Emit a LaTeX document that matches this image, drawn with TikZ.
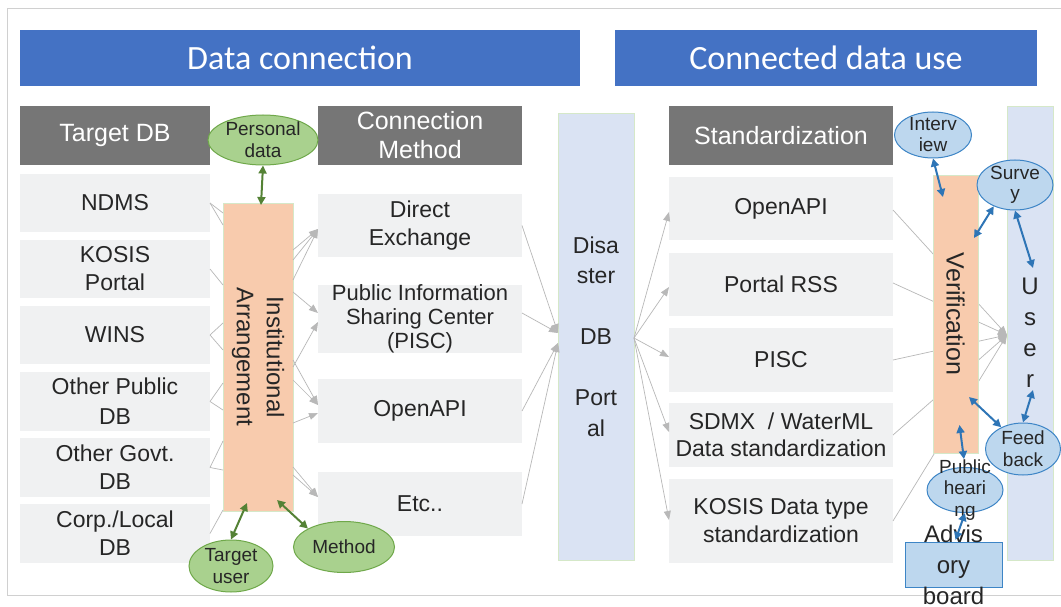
\documentclass[tikz,border=0pt]{standalone}
\usepackage{fontspec}
\setmainfont{Liberation Sans}
\newfontfamily\hdrfont{Carlito}
\usetikzlibrary{shapes.geometric,arrows.meta,calc}
\definecolor{hdrblue}{HTML}{4472C4}
\definecolor{hdrgray}{HTML}{767676}
\definecolor{itemgray}{HTML}{F0F1F2}
\definecolor{peach}{HTML}{F8CBAD}
\definecolor{portalblue}{HTML}{DAE3F3}
\definecolor{paleborder}{HTML}{D5E8C8}
\definecolor{gfill}{HTML}{A9D18E}
\definecolor{gborder}{HTML}{6FA84A}
\definecolor{garr}{HTML}{548235}
\definecolor{bfill}{HTML}{BDD7EE}
\definecolor{bborder}{HTML}{3D85C6}
\definecolor{barr}{HTML}{2E75B6}
\definecolor{linegray}{HTML}{B8B8B8}
\definecolor{txt}{HTML}{262626}
\definecolor{framegray}{HTML}{D0D0D0}
\begin{document}
\begin{tikzpicture}[x=1pt,y=-1pt,
  box/.style={inner sep=0pt, outer sep=0pt, align=center},
  bighdr/.style={box, fill=hdrblue, text=white, font=\hdrfont\fontsize{34}{36}\selectfont},
  colhdr/.style={box, fill=hdrgray, text=white, font=\fontsize{25}{29}\selectfont},
  item/.style={box, fill=itemgray, text=txt, font=\fontsize{23}{28}\selectfont},
  c1/.style={item, minimum width=190pt},
  c2/.style={item, minimum width=204pt},
  c3/.style={item, minimum width=224pt},
  tallbox/.style={box, draw=paleborder, line width=0.6pt, text=txt},
  gell/.style={ellipse, draw=gborder, fill=gfill, line width=1pt, inner sep=0pt},
  bell/.style={ellipse, draw=bborder, fill=bfill, line width=1pt, inner sep=0pt},
  etext/.style={font=\fontsize{19}{22}\selectfont, text=txt, align=center, inner sep=0pt},
  gline/.style={draw=linegray, line width=0.7pt},
  garrow/.style={gline, -{Triangle[length=9pt,width=7pt]}},
  grarrow/.style={draw=garr, line width=2pt, {Triangle[length=8pt,width=8pt]}-{Triangle[length=8pt,width=8pt]}},
  blarrow/.style={draw=barr, line width=2pt, {Triangle[length=8pt,width=8pt]}-{Triangle[length=8pt,width=8pt]}}
]
\useasboundingbox (0,0) rectangle (1061,607);
\fill[white] (0,0) rectangle (1061,607);
\draw[framegray, line width=0.8pt] (1065,8) -- (7,8) -- (7,595) -- (1065,595);

% big headers
\node[bighdr, minimum width=560pt, minimum height=56pt] (hleft) at (300,58) {Data connection};
\node[bighdr, minimum width=422pt, minimum height=56pt] (hright) at (826,58) {Connected data use};

% column 1
\node[colhdr, minimum width=190pt, minimum height=59pt] (tdbh) at (115,135.5) {Target DB};
\node[c1, minimum height=58pt] (ndms) at (115,203) {NDMS};
\node[c1, minimum height=58pt] (kosis) at (115,269) {KOSIS\\Portal};
\node[c1, minimum height=58pt] (wins) at (115,335) {WINS};
\node[c1, minimum height=59pt, font=\fontsize{23}{30}\selectfont] (opub) at (115,401.5) {Other Public\\DB};
\node[c1, minimum height=59pt] (ogov) at (115,467.5) {Other Govt.\\DB};
\node[c1, minimum height=59pt] (corp) at (115,533.5) {Corp./Local\\DB};

% institutional arrangement
\node[tallbox, fill=peach, minimum width=70pt, minimum height=308pt,
  label={[rotate=-90, font=\fontsize{24}{30}\selectfont, text=txt, align=center, inner sep=0pt]center:Institutional\\Arrangement}] (inst) at (258,357) {};

% column 2
\node[colhdr, minimum width=204pt, minimum height=59pt] (cmh) at (420,135.5) {Connection\\Method};
\node[c2, minimum height=63pt] (direct) at (420,225.5) {Direct\\Exchange};
\node[c2, minimum height=64pt, font=\fontsize{22}{24}\selectfont] (pisc) at (420,319) {Public Information\\Sharing Center\\(PISC)};
\node[c2, minimum height=64pt] (oapi) at (420,411) {OpenAPI};
\node[c2, minimum height=64pt] (etc) at (420,504) {Etc..};

% portal
\node[tallbox, fill=portalblue, minimum width=76pt, minimum height=447pt,
  font=\fontsize{23}{30.5}\selectfont] (portal) at (596,336.5) {Disa\\ster\\[30.5pt]DB\\[30.5pt]Port\\al};

% column 3
\node[colhdr, minimum width=224pt, minimum height=59pt] (sth) at (781,135.5) {Standardization};
\node[c3, minimum height=63pt] (sapi) at (781,208.5) {OpenAPI};
\node[c3, minimum height=63pt] (rss) at (781,284.5) {Portal RSS};
\node[c3, minimum height=64pt] (spisc) at (781,360) {PISC};
\node[c3, minimum height=64pt, font=\fontsize{23}{27}\selectfont] (sdmx) at (781,435) {SDMX \ / WaterML\\Data standardization};
\node[c3, minimum height=84pt] (skosis) at (781,521) {KOSIS Data type\\standardization};

% user
\node[tallbox, fill=portalblue, minimum width=46pt, minimum height=454pt,
  font=\fontsize{24}{31}\selectfont] (user) at (1030,333) {U\\s\\e\\r};

% lines target -> institutional
\draw[gline] (ndms.east) -- (inst.west |- 0,213);
\draw[gline] (ndms.east) -- (inst.west |- 0,225);
\draw[gline] (kosis.east) -- (inst.west |- 0,285);
\draw[gline] (wins.east) -- (inst.west |- 0,323);
\draw[gline] (wins.east) -- (inst.west |- 0,350);
\draw[gline] (opub.east) -- (inst.west |- 0,383);
\draw[gline] (opub.east) -- (inst.west |- 0,410);
\draw[gline] (ogov.east) -- (inst.west |- 0,441);
\draw[gline] (ogov.east) -- (inst.west |- 0,470);
\draw[gline] (corp.east) -- (inst.west |- 0,510);

% institutional -> methods
\draw[garrow] (inst.east |- 0,250) -- (direct.west |- 0,229);
\draw[garrow] (inst.east |- 0,260) -- (direct.west |- 0,229);
\draw[garrow] (inst.east |- 0,280) -- (direct.west |- 0,229);
\draw[garrow] (inst.east |- 0,292) -- (pisc.west |- 0,313);
\draw[garrow] (inst.east |- 0,367) -- (pisc.west |- 0,322);
\draw[garrow] (inst.east |- 0,360) -- (oapi.west |- 0,405);
\draw[garrow] (inst.east |- 0,380) -- (oapi.west |- 0,405);
\draw[garrow] (inst.east |- 0,423) -- (oapi.west |- 0,413);
\draw[garrow] (inst.east |- 0,467) -- (etc.west |- 0,497);
\draw[garrow] (inst.east |- 0,475) -- (etc.west |- 0,497);

% methods -> portal
\draw[garrow] (direct.east) -- (portal.west |- 0,333);
\draw[garrow] (pisc.east |- 0,313) -- (portal.west |- 0,333);
\draw[garrow] (oapi.east) -- (portal.west |- 0,343);
\draw[garrow] (etc.east) -- (portal.west |- 0,343);

% portal -> standardization
\draw[garrow] (portal.east |- 0,338) -- (sapi.west |- 0,212);
\draw[garrow] (portal.east |- 0,338) -- (rss.west |- 0,287);
\draw[garrow] (portal.east |- 0,338) -- (spisc.west |- 0,357);
\draw[garrow] (portal.east |- 0,338) -- (sdmx.west |- 0,432);
\draw[garrow] (portal.east |- 0,338) -- (skosis.west |- 0,520);

% standardization -> user (behind verification)
\draw[garrow] (sapi.east |- 0,210) -- (user.west |- 0,335);
\draw[garrow] (rss.east |- 0,283) -- (user.west |- 0,335);
\draw[garrow] (spisc.east) -- (user.west |- 0,335);
\draw[garrow] (sdmx.east) -- (user.west |- 0,335);
\draw[garrow] (skosis.east) -- (user.west |- 0,335);

% verification
\node[tallbox, fill=peach, minimum width=45pt, minimum height=278pt,
  label={[rotate=-90, font=\fontsize{25}{30}\selectfont, text=txt, inner sep=0pt]center:Verification}] (verif) at (955.5,314) {};

% advisory board
\node[box, draw=bborder, fill=bfill, line width=1pt, minimum width=97pt, minimum height=45pt,
  label={[font=\fontsize{24}{31}\selectfont, text=txt, align=center, inner sep=0pt]center:Advis\\ory\\board}] (advisory) at (953.5,564.5) {};

% green ellipses
\node[gell, minimum width=110pt, minimum height=50pt, label={[etext]center:Personal\\data}] (personal) at (263,140) {};
\node[gell, minimum width=84pt, minimum height=52pt, label={[etext]center:Target\\user}] (tuser) at (231,566) {};
\node[gell, minimum width=101pt, minimum height=51pt, label={[etext]center:Method}] (method) at (344,547) {};

% blue ellipses
\node[bell, minimum width=77pt, minimum height=46pt, label={[etext, font=\fontsize{19}{21}\selectfont]center:Interv\\iew}] (interview) at (933,135) {};
\node[bell, minimum width=76pt, minimum height=50pt, label={[etext, font=\fontsize{19}{20}\selectfont]center:Surve\\y}] (survey) at (1015,185) {};
\node[bell, minimum width=75pt, minimum height=52pt, label={[etext]center:Feed\\back}] (feedback) at (1023,449) {};
\node[bell, minimum width=76pt, minimum height=45pt, label={[etext, font=\fontsize{19}{21.5}\selectfont]center:Public\\heari\\ng}] (hearing) at (965,490) {};

% green arrows
\draw[grarrow] (personal.south) -- ($(inst.north)+(3,2)$);
\draw[grarrow] (tuser.north) -- ($(inst.south)+(-11,-8)$);
\draw[grarrow] (method.north west) -- ($(inst.south)+(19,-11)$);

% blue arrows
\draw[blarrow] (interview.south) -- ($(verif.north west)+(10,22)$);
\draw[blarrow] (survey.225) -- ($(verif.north east)+(-4,63)$);
\draw[blarrow] (survey.south) -- ($(user.north)+(3,162)$);
\draw[blarrow] (feedback.135) -- ($(verif.south east)+(-9,-56)$);
\draw[blarrow] (feedback.north) -- ($(user.north)+(3,284)$);
\draw[blarrow, shorten <=8pt] (hearing.north) -- ($(verif.south)+(4,-28)$);
\draw[blarrow] (hearing.south) -- ($(advisory.north)+(2,-2)$);
\end{tikzpicture}
\end{document}
